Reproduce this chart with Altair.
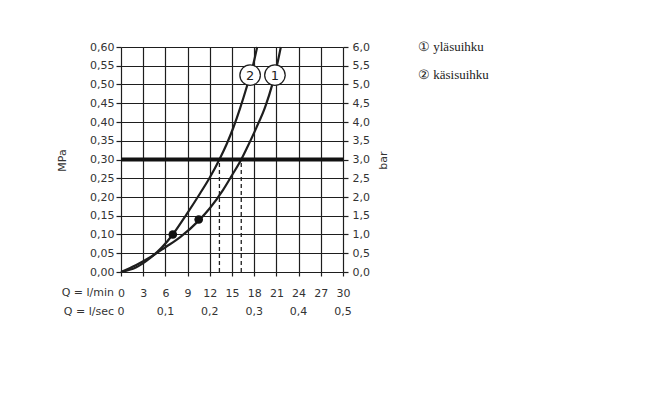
import altair as alt
import pandas as pd

# ---- data ----
q_ticks = [0, 3, 6, 9, 12, 15, 18, 21, 24, 27, 30]
lsec_ticks = [0, 0.1, 0.2, 0.3, 0.4, 0.5]
lsec_labels = ["0", "0,1", "0,2", "0,3", "0,4", "0,5"]
p_ticks = [round(i * 0.05, 2) for i in range(13)]

# curve 1: yläsuihku
c1_q = [0, 2, 4, 6, 8, 10.5, 12, 13.8, 15.0, 16.25, 17, 18.3, 19.5, 20.4, 21.1, 21.6]
c1_p = [0, 0.018, 0.04, 0.066, 0.093, 0.137, 0.17, 0.219, 0.258, 0.30, 0.33, 0.385, 0.441, 0.497, 0.553, 0.60]
# curve 2: käsisuihku
c2_q = [0, 2, 4, 5.5, 7.0, 8.9, 10.7, 12.0, 13.3, 14.3, 15.2, 16.1, 17.0, 17.9, 18.4]
c2_p = [0, 0.012, 0.038, 0.065, 0.10, 0.155, 0.21, 0.252, 0.30, 0.342, 0.386, 0.437, 0.494, 0.556, 0.60]

dots_q = [10.5, 7.0]
dots_p = [0.14, 0.10]

marker_q = [20.8, 17.45]
marker_p = [0.525, 0.525]
marker_t = ["1", "2"]

ref_p = 0.30
dash_q = [13.3, 16.25]

legend_items = ["① yläsuihku", "② käsisuihku"]
row_title_text = ["Q = l/min", "Q = l/sec"]

# ---- frames ----
curves = pd.DataFrame(
    [{"q": q, "p": p, "s": "1", "o": i} for i, (q, p) in enumerate(zip(c1_q, c1_p))]
    + [{"q": q, "p": p, "s": "2", "o": i} for i, (q, p) in enumerate(zip(c2_q, c2_p))]
)
dots = pd.DataFrame({"q": dots_q, "p": dots_p})
markers = pd.DataFrame({"q": marker_q, "p": marker_p, "t": marker_t})
dashes = pd.DataFrame({"q": dash_q, "p0": [0.0] * len(dash_q), "p1": [ref_p] * len(dash_q)})
ref = pd.DataFrame({"p": [ref_p]})
lsec = pd.DataFrame({"q": [v * 60 for v in lsec_ticks], "t": lsec_labels})
legend = pd.DataFrame({"t": legend_items, "i": [0, 1]})
rows = pd.DataFrame({"t": row_title_text, "yy": [246, 265]})

FONT = "DejaVu Sans"
INK = "#1e1e1e"
LBL = "#333333"

xscale = alt.Scale(domain=[0, 30], nice=False, zero=False)
yscale = alt.Scale(domain=[0, 0.6], nice=False, zero=False)

x_axis = alt.Axis(values=q_ticks, title=None, grid=True, gridColor=INK, gridWidth=1.2,
                  tickColor=INK, tickSize=4, tickWidth=1.2, labelFont=FONT, labelFontSize=11,
                  labelColor=LBL, labelPadding=11, domain=False, labelFlush=False,
                  labelExpr="format(datum.value, 'd')")
y_axis_left = alt.Axis(values=p_ticks, title="MPa", grid=True, gridColor=INK, gridWidth=1.2,
                       tickColor=INK, tickSize=5, tickWidth=1.2, labelFont=FONT, labelFontSize=11,
                       labelColor=LBL, labelPadding=2, domain=False, labelFlush=False,
                       titleFont=FONT, titleFontSize=11, titleFontWeight="normal", titleColor=LBL,
                       titleX=-59, titleY=113, titleAngle=270, titleAlign="center",
                       titleBaseline="middle",
                       labelExpr="replace(format(datum.value, '.2f'), '.', ',')")
y_axis_right = alt.Axis(values=p_ticks, title="bar", orient="right", grid=False,
                        tickColor=INK, tickSize=5, tickWidth=1.2, labelFont=FONT, labelFontSize=11,
                        labelColor=LBL, labelPadding=4, domain=False, labelFlush=False,
                        titleFont=FONT, titleFontSize=11, titleFontWeight="normal", titleColor=LBL,
                        titleX=40, titleY=113, titleAngle=270, titleAlign="center",
                        titleBaseline="middle",
                        labelExpr="replace(format(datum.value * 10, '.1f'), '.', ',')")

X = alt.X("q:Q", scale=xscale, axis=x_axis)

lines = alt.Chart(curves).mark_line(interpolate="monotone", strokeWidth=2.2, color=INK).encode(
    x=X,
    y=alt.Y("p:Q", scale=yscale, axis=y_axis_left),
    detail="s:N",
    order="o:Q",
)

ref_rule = alt.Chart(ref).mark_rule(strokeWidth=4, color="#111").encode(
    y=alt.Y("p:Q", scale=yscale, axis=y_axis_right),
)

dash_rules = alt.Chart(dashes).mark_rule(strokeWidth=1.3, strokeDash=[4, 3], color=INK).encode(
    x=X,
    y=alt.Y("p0:Q", scale=yscale, axis=None),
    y2="p1:Q",
)

dot_marks = alt.Chart(dots).mark_circle(size=75, color="#111", opacity=1).encode(
    x=X,
    y=alt.Y("p:Q", scale=yscale, axis=None),
)

marker_circles = alt.Chart(markers).mark_point(shape="circle", size=420, filled=True,
                                               fill="white", stroke=INK, strokeWidth=1.3,
                                               opacity=1).encode(
    x=X,
    y=alt.Y("p:Q", scale=yscale, axis=None),
)
marker_text = alt.Chart(markers).mark_text(font=FONT, fontSize=13, color=INK,
                                           baseline="middle", align="center", dy=1).encode(
    x=X,
    y=alt.Y("p:Q", scale=yscale, axis=None),
    text="t:N",
)

lsec_text = alt.Chart(lsec).mark_text(font=FONT, fontSize=11, color=LBL,
                                      baseline="middle", align="center").encode(
    x=X,
    y=alt.value(265),
    text="t:N",
)

row_titles = alt.Chart(rows).mark_text(
    font=FONT, fontSize=11, color=LBL, baseline="middle", align="right"
).encode(
    x=alt.value(-7),
    y=alt.Y("yy:Q", scale=None, axis=None),
    text="t:N",
)

legend_text = alt.Chart(legend).mark_text(font="Liberation Serif", fontSize=13, color="#222",
                                          baseline="middle", align="left").encode(
    x=alt.value(297),
    y=alt.Y("i:Q", scale=alt.Scale(domain=[0, 1], range=[0, 28]), axis=None),
    text="t:N",
)

chart = alt.layer(
    lines, dash_rules, ref_rule, dot_marks, marker_circles, marker_text,
    lsec_text, row_titles, legend_text,
).resolve_axis(y="independent").resolve_scale(y="independent").properties(
    width=222, height=225,
    autosize=alt.AutoSizeParams(type="none"),
    padding={"left": 113, "top": 39, "right": 297, "bottom": 120},
).configure_view(stroke=INK, strokeWidth=1.5).configure(background="white")

chart.save("out.html", embed_options={"renderer": "svg", "actions": False})
